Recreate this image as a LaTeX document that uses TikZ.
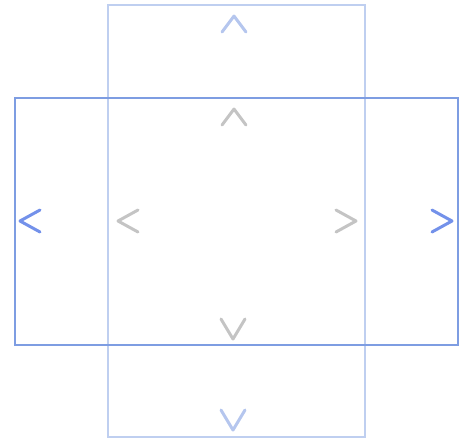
\documentclass[tikz,border=0pt]{standalone}
\usepackage{tikz}
\usetikzlibrary{positioning}
\definecolor{Sky}{HTML}{BFCFF0}
\definecolor{Azure}{HTML}{7E9DE2}
\definecolor{Cobalt}{HTML}{7391EA}
\definecolor{Haze}{HTML}{B5C6EE}
\definecolor{Ash}{HTML}{C4C4C4}

\tikzset{
  chev/.style={line width=3pt, line cap=round, line join=round},
}

\begin{document}
\begin{tikzpicture}[x=1pt, y=-1pt]
    \useasboundingbox (0,0) rectangle (467,440);
    % the two frames
    \node[draw=Sky, line width=1.2pt, minimum width=257pt, minimum height=432pt, inner sep=0pt] (tall) at (236.5,221) {};
    \node[draw=Azure, line width=1.5pt, minimum width=443pt, minimum height=247pt, inner sep=0pt] (wide) at (236.5,221.5) {};
    % chevrons
    \coordinate (upout) at (234,24);
    \coordinate (upin) at (234,117);
    \coordinate (dnin) at (233,329);
    \coordinate (dnout) at (233,420);
    \coordinate (ltout) at (30,221);
    \coordinate (ltin) at (128,221);
    \coordinate (rtin) at (346,221);
    \coordinate (rtout) at (442,221);
    \draw[chev, Haze, shift={(upout)}] (-12,8) -- (0,-8) -- (12,8);
    \draw[chev, Ash, shift={(upin)}] (-12,8) -- (0,-8) -- (12,8);
    \draw[chev, Ash, shift={(dnin)}] (-12,-10) -- (0,10) -- (12,-10);
    \draw[chev, Haze, shift={(dnout)}] (-12,-10) -- (0,10) -- (12,-10);
    \draw[chev, Cobalt, shift={(ltout)}] (10,-11) -- (-10,0) -- (10,11);
    \draw[chev, Ash, shift={(ltin)}] (10,-11) -- (-10,0) -- (10,11);
    \draw[chev, Ash, shift={(rtin)}] (-10,-11) -- (10,0) -- (-10,11);
    \draw[chev, Cobalt, shift={(rtout)}] (-10,-11) -- (10,0) -- (-10,11);
  \end{tikzpicture}
\end{document}
